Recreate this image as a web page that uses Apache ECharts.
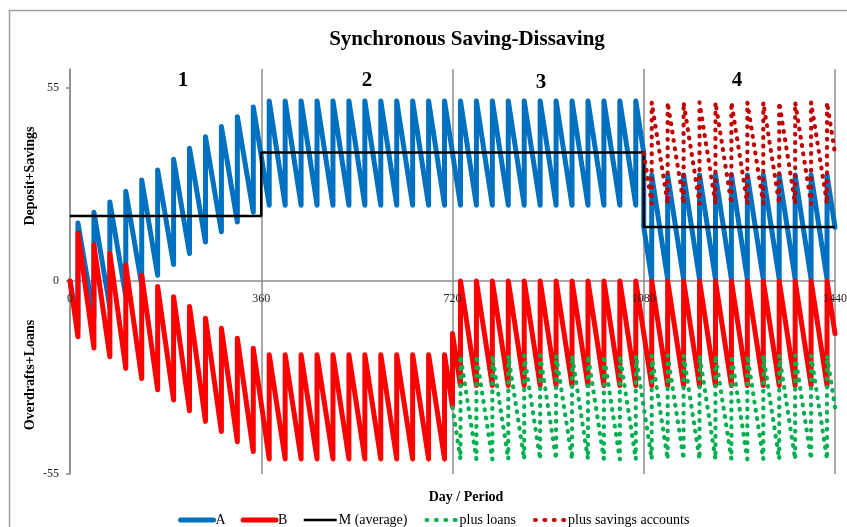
<!DOCTYPE html>
<html><head><meta charset="utf-8">
<script src="https://cdn.jsdelivr.net/npm/echarts@6/dist/echarts.min.js"></script>
<style>html,body{margin:0;padding:0;background:#fff}#c{width:847px;height:527px}</style>
</head><body><div id="c"></div>
<script>
const titleText = 'Synchronous Saving-Dissaving';
const seriesNames = ['A', 'B', 'M (average)', 'plus loans', 'plus savings accounts'];
const periodLabels = ['1', '2', '3', '4'];
const xTicks = [0, 360, 720, 1080, 1440];
const yTicks = [-55, 0, 55];

// A: value just before and just after each jump day
const aDays = [0, 15, 45, 75, 105, 135, 165, 195, 225, 255, 285, 315, 345,
  375, 405, 435, 465, 495, 525, 555, 585, 615, 645, 675, 705,
  735, 765, 795, 825, 855, 885, 915, 945, 975, 1005, 1035, 1065,
  1080, 1095, 1125, 1155, 1185, 1215, 1245, 1275, 1305, 1335, 1365, 1395, 1425, 1440];
const aBefore = [0, -13.5, -10.4, -7.5, -4.4, -1.2, 1.6, 4.7, 7.8, 11.1, 14.0, 16.8, 19.6,
  21.6, 21.6, 21.6, 21.6, 21.6, 21.6, 21.6, 21.6, 21.6, 21.6, 21.6, 21.6,
  21.6, 21.6, 21.6, 21.6, 21.6, 21.6, 21.6, 21.6, 21.6, 21.6, 21.6, 21.6,
  36.4, 0.5, 0.5, 0.5, 0.5, 0.5, 0.5, 0.5, 0.5, 0.5, 0.5, 0.5, 0.5, 15.3];
const aAfter = [0, 16.5, 19.6, 22.5, 25.6, 28.8, 31.6, 34.7, 37.8, 41.1, 44.0, 46.8, 49.6,
  51.3, 51.3, 51.3, 51.3, 51.3, 51.3, 51.3, 51.3, 51.3, 51.3, 51.3, 51.3,
  51.3, 51.3, 51.3, 51.3, 51.3, 51.3, 51.3, 51.3, 51.3, 51.3, 51.3, 51.3,
  15.4, 30.2, 30.2, 30.2, 30.2, 30.2, 30.2, 30.2, 30.2, 30.2, 30.2, 30.2, 30.2, 15.3];

// B
const bDays = [0, 15, 45, 75, 105, 135, 165, 195, 225, 255, 285, 315, 345,
  375, 405, 435, 465, 495, 525, 555, 585, 615, 645, 675, 705, 720,
  735, 765, 795, 825, 855, 885, 915, 945, 975, 1005, 1035, 1065,
  1095, 1125, 1155, 1185, 1215, 1245, 1275, 1305, 1335, 1365, 1395, 1425, 1440];
const bBefore = [0, -15.9, -19.1, -21.6, -24.9, -27.8, -31.0, -33.9, -37.0, -40.0, -42.9, -45.8, -48.6,
  -50.7, -50.7, -50.7, -50.7, -50.7, -50.7, -50.7, -50.7, -50.7, -50.7, -50.7, -50.7, -35.9,
  -29.8, -29.8, -29.8, -29.8, -29.8, -29.8, -29.8, -29.8, -29.8, -29.8, -29.8, -29.8,
  -29.8, -29.8, -29.8, -29.8, -29.8, -29.8, -29.8, -29.8, -29.8, -29.8, -29.8, -29.8, -15.0];
const bAfter = [0, 13.7, 10.3, 7.9, 4.6, 1.7, -1.6, -4.5, -7.3, -10.6, -13.5, -16.3, -19.2,
  -21.0, -21.0, -21.0, -21.0, -21.0, -21.0, -21.0, -21.0, -21.0, -21.0, -21.0, -21.0, -15.0,
  0, 0, 0, 0, 0, 0, 0, 0, 0, 0, 0, 0,
  0, 0, 0, 0, 0, 0, 0, 0, 0, 0, 0, 0, -15.0];

// M (average)
const mDays = [0, 360, 360, 1080, 1080, 1440];
const mValues = [18.5, 18.5, 36.6, 36.6, 15.4, 15.4];

// plus loans
const lDays = [720, 735, 765, 795, 825, 855, 885, 915, 945, 975, 1005, 1035, 1065,
  1095, 1125, 1155, 1185, 1215, 1245, 1275, 1305, 1335, 1365, 1395, 1425, 1440];
const lBefore = [-36.0, -50.8, -50.8, -50.8, -50.8, -50.8, -50.8, -50.8, -50.8, -50.8, -50.8, -50.8, -50.8,
  -50.8, -50.8, -50.8, -50.8, -50.8, -50.8, -50.8, -50.8, -50.8, -50.8, -50.8, -50.8, -36.0];
const lAfter = [-36.0, -21.2, -21.2, -21.2, -21.2, -21.2, -21.2, -21.2, -21.2, -21.2, -21.2, -21.2, -21.2,
  -21.2, -21.2, -21.2, -21.2, -21.2, -21.2, -21.2, -21.2, -21.2, -21.2, -21.2, -21.2, -36.0];

// plus savings accounts
const sDays = [1080, 1095, 1125, 1155, 1185, 1215, 1245, 1275, 1305, 1335, 1365, 1395, 1425, 1440];
const sBefore = [36.4, 22.0, 22.0, 22.0, 22.0, 22.0, 22.0, 22.0, 22.0, 22.0, 22.0, 22.0, 22.0, 36.3];
const sAfter = [36.4, 50.9, 50.9, 50.9, 50.9, 50.9, 50.9, 50.9, 50.9, 50.9, 50.9, 50.9, 50.9, 36.3];

function saw(days, before, after) {
  const out = [];
  for (let i = 0; i < days.length; i++) {
    out.push([days[i], before[i]]);
    if (after[i] !== before[i]) out.push([days[i], after[i]]);
  }
  return out;
}
function pairs(xs, ys) { return xs.map((x, i) => [x, ys[i]]); }

const SERIF = 'Liberation Serif, Times New Roman, serif';
const GRID = '#8c8c8c';
const COLORS = ['#0070C0', '#FF0000', '#000000', '#00B050', '#C00000'];
const DOTS = [0.8, 7.6];
const chart = echarts.init(document.getElementById('c'));
const lineBase = { type: 'line', symbol: 'none', animation: false, silent: true };

const baseGraphics = [
  { type: 'polyline', shape: { points: [[9.5, 530], [9.5, 10.5], [850, 10.5]] },
    style: { stroke: '#a0a0a0', lineWidth: 1.5, fill: null }, silent: true },
  { type: 'text', x: 30, y: 176, rotation: Math.PI / 2,
    style: { text: 'Deposit+Savings', font: 'bold 14px ' + SERIF, fill: '#000', align: 'center', verticalAlign: 'middle' } },
  { type: 'text', x: 30, y: 375, rotation: Math.PI / 2,
    style: { text: 'Overdrafts+Loans', font: 'bold 14px ' + SERIF, fill: '#000', align: 'center', verticalAlign: 'middle' } },
  { type: 'text', x: 466, y: 497,
    style: { text: 'Day / Period', font: 'bold 14px ' + SERIF, fill: '#000', align: 'center', verticalAlign: 'middle' } },
  { type: 'text', x: 183, y: 81, style: { text: periodLabels[0], font: 'bold 21px ' + SERIF, fill: '#000', align: 'center', verticalAlign: 'middle' } },
  { type: 'text', x: 367, y: 81, style: { text: periodLabels[1], font: 'bold 21px ' + SERIF, fill: '#000', align: 'center', verticalAlign: 'middle' } },
  { type: 'text', x: 541, y: 83, style: { text: periodLabels[2], font: 'bold 21px ' + SERIF, fill: '#000', align: 'center', verticalAlign: 'middle' } },
  { type: 'text', x: 737, y: 81, style: { text: periodLabels[3], font: 'bold 21px ' + SERIF, fill: '#000', align: 'center', verticalAlign: 'middle' } }
];

chart.setOption({
  backgroundColor: '#fff',
  animation: false,
  title: {
    text: titleText, left: 462, top: 24, textAlign: 'center',
    textStyle: { fontFamily: SERIF, fontSize: 21, fontWeight: 'bold', color: '#000' }
  },
  grid: { left: 70, top: 69, width: 765, height: 405, containLabel: false },
  xAxis: {
    type: 'value', min: 0, max: 1440, interval: 360,
    offset: -193, position: 'bottom',
    axisLine: { onZero: false, lineStyle: { color: GRID, width: 1.5 } },
    axisTick: { show: false },
    axisLabel: { show: false },
    splitLine: { show: true, lineStyle: { color: GRID, width: 1.5 } }
  },
  yAxis: {
    type: 'value', min: -55, max: 60.4, interval: 55,
    axisLine: { show: true, onZero: false, lineStyle: { color: GRID, width: 1.5 } },
    axisTick: { show: true, length: 4, customValues: yTicks, lineStyle: { color: GRID, width: 1.5 } },
    axisLabel: { customValues: yTicks, fontFamily: SERIF, fontSize: 12, color: '#222', margin: 11 },
    splitLine: { show: false }
  },
  legend: {
    data: [
      { name: seriesNames[0], lineStyle: { width: 5, color: COLORS[0], cap: 'round' } },
      { name: seriesNames[1], lineStyle: { width: 5, color: COLORS[1], cap: 'round' } },
      { name: seriesNames[2], lineStyle: { width: 2.5, color: COLORS[2] } },
      { name: seriesNames[3], lineStyle: { width: 4.2, color: COLORS[3], type: [0.8, 8.6], cap: 'round', dashOffset: -2 } },
      { name: seriesNames[4], lineStyle: { width: 4.2, color: COLORS[4], type: [0.8, 8.6], cap: 'round', dashOffset: -2 } }
    ],
    left: 173, top: 508, itemWidth: 33, itemHeight: 12, itemGap: 15,
    itemStyle: { opacity: 0 },
    textStyle: { fontFamily: SERIF, fontSize: 14, color: '#000', padding: [0, 0, 0, -3] },
    selectedMode: false
  },
  graphic: baseGraphics,
  series: [
    Object.assign({}, lineBase, { name: seriesNames[0], data: saw(aDays, aBefore, aAfter),
      lineStyle: { color: COLORS[0], width: 5, cap: 'round', join: 'round' }, itemStyle: { color: COLORS[0] } }),
    Object.assign({}, lineBase, { name: seriesNames[1], data: saw(bDays, bBefore, bAfter),
      lineStyle: { color: COLORS[1], width: 5, cap: 'round', join: 'round' }, itemStyle: { color: COLORS[1] } }),
    Object.assign({}, lineBase, { name: seriesNames[2], data: pairs(mDays, mValues),
      lineStyle: { color: COLORS[2], width: 2.5 }, itemStyle: { color: COLORS[2] } }),
    Object.assign({}, lineBase, { name: seriesNames[3], data: saw(lDays, lBefore, lAfter),
      lineStyle: { color: COLORS[3], width: 4.2, type: DOTS, cap: 'round', join: 'round' }, itemStyle: { color: COLORS[3] } }),
    Object.assign({}, lineBase, { name: seriesNames[4], data: saw(sDays, sBefore, sAfter),
      lineStyle: { color: COLORS[4], width: 4.2, type: DOTS, cap: 'round', join: 'round' }, itemStyle: { color: COLORS[4] } })
  ]
});

// x tick labels placed through the axis scale, drawn above the series
const tickLabels = xTicks.map(v => {
  const p = chart.convertToPixel({ xAxisIndex: 0, yAxisIndex: 0 }, [v, 0]);
  return { type: 'text', x: p[0], y: p[1] + 18, z: 100, zlevel: 1,
    style: { text: String(v), font: '12px ' + SERIF, fill: '#222', align: 'center', verticalAlign: 'middle' } };
});
chart.setOption({ graphic: baseGraphics.concat(tickLabels) });
</script>
</body></html>
